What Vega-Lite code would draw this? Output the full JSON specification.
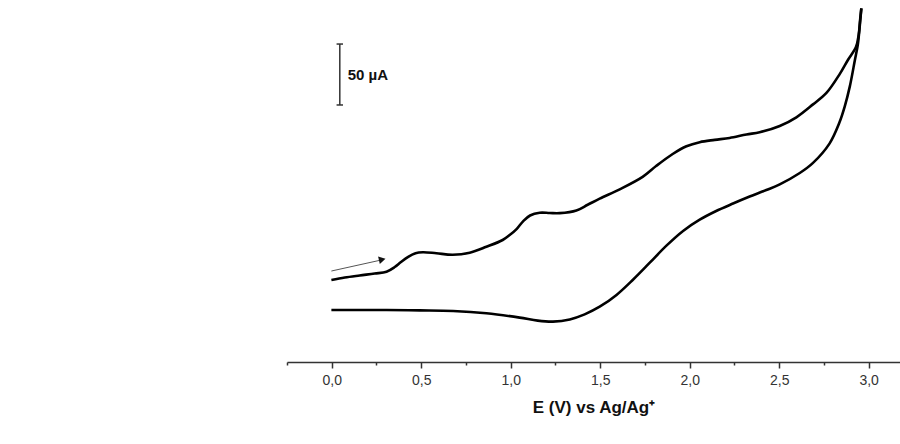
{
  "$schema": "https://vega.github.io/schema/vega-lite/v6.json",
  "width": 613,
  "height": 362,
  "autosize": {"type": "none"},
  "padding": {"left": 287, "top": 0, "right": 0, "bottom": 82},
  "background": "white",
  "config": {"view": {"stroke": null}, "font": "Liberation Sans"},
  "datasets": {
    "cv": [
      {"b": "f", "i": 0, "E": -0.002, "I": 67.9},
      {"b": "f", "i": 1, "E": 0.073, "I": 70.0},
      {"b": "f", "i": 2, "E": 0.156, "I": 71.7},
      {"b": "f", "i": 3, "E": 0.240, "I": 73.3},
      {"b": "f", "i": 4, "E": 0.306, "I": 74.8},
      {"b": "f", "i": 5, "E": 0.352, "I": 78.7},
      {"b": "f", "i": 6, "E": 0.385, "I": 82.6},
      {"b": "f", "i": 7, "E": 0.425, "I": 87.0},
      {"b": "f", "i": 8, "E": 0.468, "I": 90.2},
      {"b": "f", "i": 9, "E": 0.510, "I": 91.0},
      {"b": "f", "i": 10, "E": 0.585, "I": 90.1},
      {"b": "f", "i": 11, "E": 0.676, "I": 88.9},
      {"b": "f", "i": 12, "E": 0.771, "I": 90.6},
      {"b": "f", "i": 13, "E": 0.864, "I": 95.5},
      {"b": "f", "i": 14, "E": 0.955, "I": 101.1},
      {"b": "f", "i": 15, "E": 0.994, "I": 105.2},
      {"b": "f", "i": 16, "E": 1.034, "I": 110.4},
      {"b": "f", "i": 17, "E": 1.070, "I": 116.8},
      {"b": "f", "i": 18, "E": 1.108, "I": 121.4},
      {"b": "f", "i": 19, "E": 1.162, "I": 123.7},
      {"b": "f", "i": 20, "E": 1.218, "I": 123.5},
      {"b": "f", "i": 21, "E": 1.274, "I": 123.4},
      {"b": "f", "i": 22, "E": 1.367, "I": 125.6},
      {"b": "f", "i": 23, "E": 1.430, "I": 130.3},
      {"b": "f", "i": 24, "E": 1.497, "I": 135.4},
      {"b": "f", "i": 25, "E": 1.609, "I": 143.1},
      {"b": "f", "i": 26, "E": 1.737, "I": 153.4},
      {"b": "f", "i": 27, "E": 1.814, "I": 162.6},
      {"b": "f", "i": 28, "E": 1.905, "I": 172.4},
      {"b": "f", "i": 29, "E": 1.982, "I": 178.8},
      {"b": "f", "i": 30, "E": 2.056, "I": 182.2},
      {"b": "f", "i": 31, "E": 2.140, "I": 184.1},
      {"b": "f", "i": 32, "E": 2.223, "I": 185.7},
      {"b": "f", "i": 33, "E": 2.317, "I": 188.6},
      {"b": "f", "i": 34, "E": 2.391, "I": 190.4},
      {"b": "f", "i": 35, "E": 2.503, "I": 195.6},
      {"b": "f", "i": 36, "E": 2.596, "I": 202.8},
      {"b": "f", "i": 37, "E": 2.689, "I": 213.5},
      {"b": "f", "i": 38, "E": 2.764, "I": 223.0},
      {"b": "f", "i": 39, "E": 2.838, "I": 238.6},
      {"b": "f", "i": 40, "E": 2.884, "I": 250.3},
      {"b": "f", "i": 41, "E": 2.929, "I": 261.0},
      {"b": "f", "i": 42, "E": 2.944, "I": 271.0},
      {"b": "f", "i": 43, "E": 2.952, "I": 283.4},
      {"b": "f", "i": 44, "E": 2.959, "I": 293.1},
      {"b": "r", "i": 45, "E": 2.959, "I": 293.1},
      {"b": "r", "i": 46, "E": 2.948, "I": 275.1},
      {"b": "r", "i": 47, "E": 2.939, "I": 262.7},
      {"b": "r", "i": 48, "E": 2.923, "I": 250.3},
      {"b": "r", "i": 49, "E": 2.895, "I": 228.6},
      {"b": "r", "i": 50, "E": 2.866, "I": 211.6},
      {"b": "r", "i": 51, "E": 2.835, "I": 197.8},
      {"b": "r", "i": 52, "E": 2.782, "I": 181.2},
      {"b": "r", "i": 53, "E": 2.689, "I": 165.0},
      {"b": "r", "i": 54, "E": 2.615, "I": 156.6},
      {"b": "r", "i": 55, "E": 2.503, "I": 147.2},
      {"b": "r", "i": 56, "E": 2.428, "I": 142.5},
      {"b": "r", "i": 57, "E": 2.335, "I": 137.1},
      {"b": "r", "i": 58, "E": 2.242, "I": 131.3},
      {"b": "r", "i": 59, "E": 2.145, "I": 124.9},
      {"b": "r", "i": 60, "E": 2.056, "I": 117.9},
      {"b": "r", "i": 61, "E": 1.963, "I": 108.6},
      {"b": "r", "i": 62, "E": 1.870, "I": 96.4},
      {"b": "r", "i": 63, "E": 1.777, "I": 82.3},
      {"b": "r", "i": 64, "E": 1.683, "I": 68.2},
      {"b": "r", "i": 65, "E": 1.591, "I": 55.6},
      {"b": "r", "i": 66, "E": 1.497, "I": 45.8},
      {"b": "r", "i": 67, "E": 1.413, "I": 39.5},
      {"b": "r", "i": 68, "E": 1.330, "I": 35.3},
      {"b": "r", "i": 69, "E": 1.236, "I": 33.5},
      {"b": "r", "i": 70, "E": 1.151, "I": 34.3},
      {"b": "r", "i": 71, "E": 1.050, "I": 36.8},
      {"b": "r", "i": 72, "E": 0.864, "I": 40.4},
      {"b": "r", "i": 73, "E": 0.678, "I": 42.3},
      {"b": "r", "i": 74, "E": 0.492, "I": 42.8},
      {"b": "r", "i": 75, "E": 0.306, "I": 43.1},
      {"b": "r", "i": 76, "E": -0.002, "I": 43.1}
    ],
    "bar": [
      {"E": 0.045, "E2": 0.045, "I": 213.0, "I2": 263.5},
      {"E": 0.027, "E2": 0.063, "I": 263.5, "I2": 263.5},
      {"E": 0.027, "E2": 0.063, "I": 213.0, "I2": 213.0}
    ],
    "label": [
      {"E": 0.089, "I": 237.5, "t": "50 µA"}
    ],
    "arrow": [
      {"E": -0.002, "I": 75.4, "E2": 0.282, "I2": 84.7}
    ],
    "head": [
      {"E": 0.282, "I": 84.9}
    ]
  },
  "layer": [
    {
      "data": {"name": "cv"},
      "mark": {"type": "line", "color": "black", "strokeWidth": 2.6, "interpolate": "catmull-rom"},
      "encoding": {
        "x": {
          "field": "E", "type": "quantitative",
          "scale": {"domain": [-0.25, 3.175], "nice": false, "zero": false},
          "axis": {
            "values": [-0.25, 0, 0.25, 0.5, 0.75, 1, 1.25, 1.5, 1.75, 2, 2.25, 2.5, 2.75, 3],
            "labelExpr": "abs(datum.value*2 - round(datum.value*2)) < 0.001 ? replace(format(datum.value, '.1f'), '.', ',') : ''",
            "tickSize": {"condition": {"test": "abs(datum.value*2 - round(datum.value*2)) < 0.001", "value": 6}, "value": 3},
            "grid": false,
            "domainColor": "#333",
            "domainWidth": 1.5,
            "tickColor": "#333",
            "tickWidth": 1.5,
            "labelColor": "#333",
            "labelFontSize": 14,
            "labelPadding": 5,
            "labelFlush": false,
            "labelOverlap": false,
            "title": "E (V) vs Ag/Ag⁺",
            "titleFontSize": 17,
            "titleFontWeight": "bold",
            "titleColor": "#111",
            "titlePadding": 12
          }
        },
        "y": {
          "field": "I", "type": "quantitative",
          "scale": {"domain": [0, 300], "nice": false, "zero": false},
          "axis": null
        },
        "detail": {"field": "b"},
        "order": {"field": "i", "type": "quantitative"}
      }
    },
    {
      "data": {"name": "bar"},
      "mark": {"type": "rule", "color": "#333", "strokeWidth": 1.5},
      "encoding": {
        "x": {"field": "E", "type": "quantitative"},
        "x2": {"field": "E2"},
        "y": {"field": "I", "type": "quantitative"},
        "y2": {"field": "I2"}
      }
    },
    {
      "data": {"name": "label"},
      "mark": {"type": "text", "align": "left", "baseline": "middle", "fontSize": 15, "fontWeight": "bold", "color": "#111"},
      "encoding": {
        "x": {"field": "E", "type": "quantitative"},
        "y": {"field": "I", "type": "quantitative"},
        "text": {"field": "t"}
      }
    },
    {
      "data": {"name": "arrow"},
      "mark": {"type": "rule", "color": "#555", "strokeWidth": 1},
      "encoding": {
        "x": {"field": "E", "type": "quantitative"},
        "x2": {"field": "E2"},
        "y": {"field": "I", "type": "quantitative"},
        "y2": {"field": "I2"}
      }
    },
    {
      "data": {"name": "head"},
      "mark": {"type": "point", "shape": "triangle-right", "filled": true, "color": "#111", "size": 60, "angle": -13, "opacity": 1},
      "encoding": {
        "x": {"field": "E", "type": "quantitative"},
        "y": {"field": "I", "type": "quantitative"}
      }
    }
  ]
}
